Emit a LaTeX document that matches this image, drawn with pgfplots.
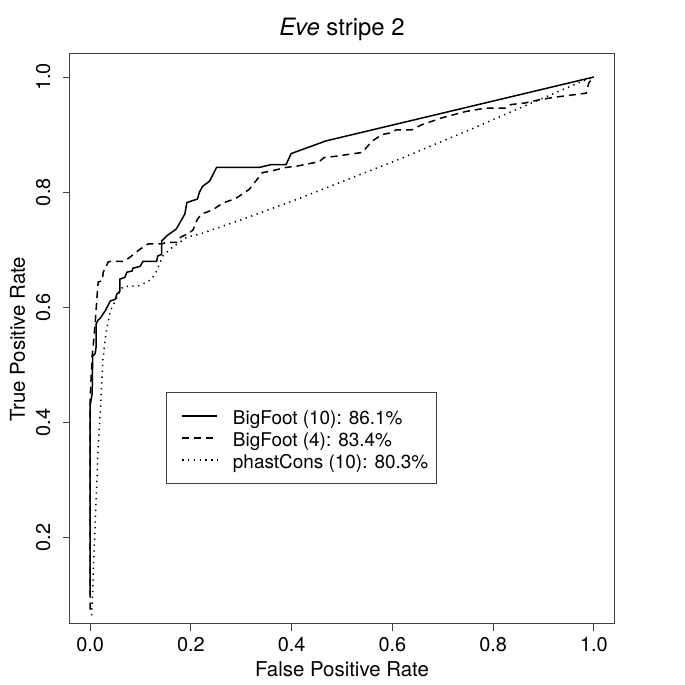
\documentclass[border=0pt]{standalone}
\usepackage{pgfplots}
\pgfplotsset{compat=1.18}
\usepackage{fontspec}
\setmainfont{TeX Gyre Heros}
\begin{document}
\begin{tikzpicture}
\begin{axis}[
  scale only axis, width=544bp, height=570bp,
  xmin=-0.04, xmax=1.04, ymin=0.05, ymax=1.04,
  axis line style={black!75, line width=1bp},
  xtick={0,0.2,0.4,0.6,0.8,1.0}, ytick={0.2,0.4,0.6,0.8,1.0},
  xticklabels={0.0,0.2,0.4,0.6,0.8,1.0}, yticklabels={0.2,0.4,0.6,0.8,1.0},
  xtick pos=bottom, ytick pos=left, tick align=outside,
  major tick length=7bp, tick style={black!75, line width=1bp},
  ticklabel style={font=\fontsize{20}{24}\selectfont},
  xticklabel style={anchor=base, yshift=-21bp},
  yticklabel style={rotate=90, anchor=base, yshift=13bp},
  xlabel={False Positive Rate}, ylabel={True Positive Rate},
  label style={font=\fontsize{20.5}{24}\selectfont},
  xlabel style={at={(axis description cs:0.5,0)}, anchor=base, yshift=-53bp},
  ylabel style={at={(axis description cs:0,0.5)}, anchor=base, yshift=45bp},
  title={\textit{Eve} stripe 2},
  title style={font=\fontsize{24}{28}\selectfont, at={(axis description cs:0.5,1)}, anchor=base, yshift=13bp},
  legend style={at={(axis cs:0.150,0.4525)}, anchor=north west, draw=black!75, line width=1bp,
    fill=white, font=\fontsize{19}{22}\selectfont, inner xsep=8bp, inner ysep=14.5bp,
    row sep=4bp, nodes={inner sep=0pt, text height=17bp, text depth=1bp},
    /tikz/every odd column/.append style={column sep=15bp}},
  legend cell align=left,
  legend image code/.code={\path[draw=none,fill=none] (0bp,-1bp) rectangle (1bp,1bp); \draw[#1] (8bp,0bp) -- (43bp,0bp);},
]
\addplot[black, line width=1.5bp] coordinates {
(0,0.10) (0,0.43) (0.004,0.45) (0.005,0.515) (0.01,0.52) (0.012,0.532) (0.012,0.572)
(0.016,0.578) (0.02,0.581) (0.026,0.589) (0.03,0.594) (0.04,0.611) (0.05,0.614)
(0.053,0.623) (0.059,0.628) (0.059,0.649) (0.069,0.652) (0.073,0.661) (0.083,0.663)
(0.085,0.668) (0.099,0.671) (0.105,0.68) (0.132,0.68) (0.134,0.689) (0.142,0.692)
(0.142,0.715) (0.152,0.724) (0.171,0.736) (0.188,0.762) (0.192,0.782) (0.213,0.788)
(0.217,0.800) (0.223,0.810) (0.237,0.819) (0.251,0.843) (0.336,0.843) (0.36,0.848)
(0.389,0.848) (0.399,0.867) (0.468,0.889) (1,1)
};
\addlegendentry{BigFoot (10): 86.1\%}
\addplot[black, line width=1.5bp, dash pattern=on 7bp off 5bp] coordinates {
(0,0.075) (0,0.442) (0.004,0.516) (0.006,0.532) (0.01,0.572) (0.014,0.623) (0.016,0.644)
(0.024,0.646) (0.026,0.661) (0.036,0.679) (0.043,0.680) (0.067,0.680) (0.079,0.687)
(0.099,0.701) (0.115,0.710) (0.142,0.710) (0.152,0.713) (0.172,0.713) (0.180,0.722)
(0.192,0.727) (0.204,0.734) (0.213,0.753) (0.221,0.762) (0.243,0.769) (0.263,0.781)
(0.289,0.789) (0.316,0.805) (0.342,0.834) (0.356,0.836) (0.389,0.843) (0.409,0.845)
(0.455,0.853) (0.464,0.860) (0.484,0.862) (0.540,0.869) (0.559,0.888) (0.579,0.900)
(0.597,0.903) (0.607,0.908) (0.638,0.908) (0.658,0.917) (0.698,0.929) (0.745,0.940)
(0.785,0.946) (0.824,0.946) (0.834,0.952) (0.864,0.955) (0.889,0.960) (0.923,0.965)
(0.95,0.968) (0.985,0.972) (0.99,0.99) (1,1)
};
\addlegendentry{BigFoot (4): 83.4\%}
\addplot[black, line width=1.5bp, dash pattern=on 1.3bp off 4.5bp] coordinates {
(0.003,0.065) (0.016,0.36) (0.021,0.43) (0.025,0.506) (0.03,0.546) (0.033,0.563)
(0.04,0.594) (0.059,0.627) (0.065,0.636) (0.095,0.637) (0.113,0.644) (0.122,0.649)
(0.132,0.663) (0.144,0.689) (0.164,0.705) (0.178,0.713) (0.192,0.722) (0.217,0.727)
(0.3,0.752) (0.415,0.789) (0.613,0.857) (0.75,0.907) (0.85,0.945) (0.97,0.99) (1,1)
};
\addlegendentry{phastCons (10): 80.3\%}
\end{axis}
\path ([shift={(-70bp,-61bp)}]current axis.south west) rectangle ([shift={(71bp,54bp)}]current axis.north east);
\end{tikzpicture}
\end{document}
